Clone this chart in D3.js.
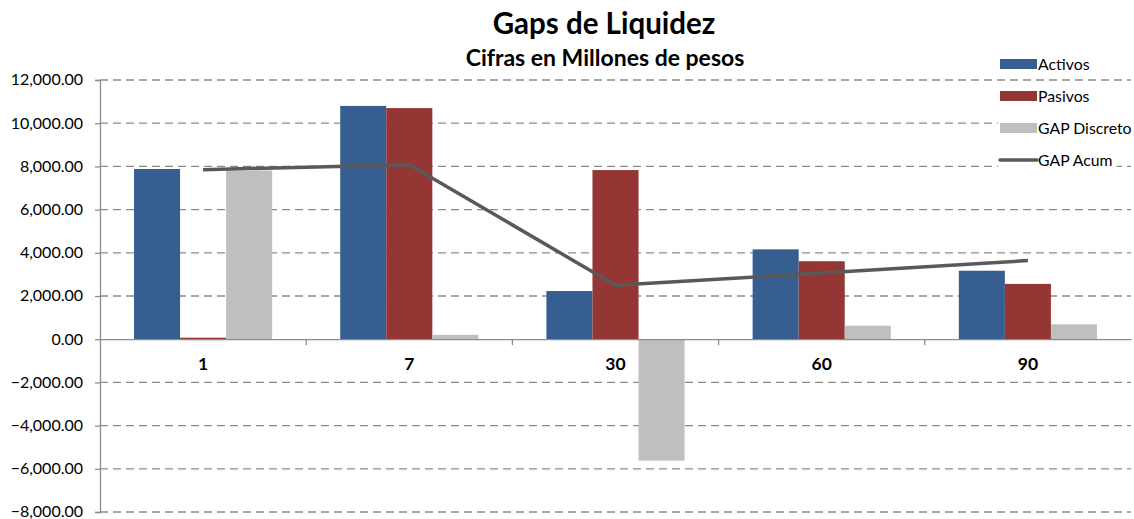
<!DOCTYPE html>
<html><head><meta charset="utf-8">
<script src="https://cdn.jsdelivr.net/npm/d3@7"></script>
<style>body{margin:0;background:#fff}svg{display:block}text{font-family:Lato,"Open Sans",sans-serif}</style>
</head><body><svg id="c" width="1134" height="519"></svg>
<script>
const categories = ["1","7","30","60","90"];
const activos = [7880, 10800, 2230, 4160, 3170];
const pasivos = [70, 10700, 7830, 3610, 2560];
const gapDiscreto = [7810, 200, -5620, 625, 690];
const gapAcum = [7850, 8080, 2500, 3060, 3640];
const yTicks = [12000,10000,8000,6000,4000,2000,0,-2000,-4000,-6000,-8000];
const seriesNames = ["Activos","Pasivos","GAP Discreto","GAP Acum"];
const colors = ["#365E91","#943634","#BFBFBF","#595959"];

const svg = d3.select("#c");
const L = 100, R = 1131, T = 80, B = 512;
const y = d3.scaleLinear().domain([-8000,12000]).range([B,T]);
const x = d3.scaleBand().domain(categories).range([L,R]).paddingInner(0.33).paddingOuter(0.165);
const xg = d3.scaleBand().domain(categories).range([L,R]);
const xs = d3.scaleBand().domain([0,1,2]).range([0,x.bandwidth()]);

// gridlines
svg.append("g").selectAll("line").data(yTicks.filter(d=>d!==0)).join("line")
  .attr("x1",L).attr("x2",R).attr("y1",d=>y(d)).attr("y2",d=>y(d))
  .attr("stroke","#8c8c8c").attr("stroke-width",1.3).attr("stroke-dasharray","8,5");

// y axis
const yAxis = d3.axisLeft(y).tickValues(yTicks).tickSize(5).tickPadding(12)
  .tickFormat(d=>d3.format(",.2f")(d));
const ga = svg.append("g").attr("transform",`translate(${L},0)`).call(yAxis);
ga.select(".domain").attr("stroke","#8c8c8c").attr("stroke-width",1.3);
ga.selectAll(".tick line").attr("stroke","#8c8c8c").attr("stroke-width",1.3);
ga.selectAll(".tick text").attr("font-size",16).attr("fill","#000").attr("font-family","Lato,sans-serif").attr("dy","0.3em");

// bars
const series = [activos,pasivos,gapDiscreto];
series.forEach((vals,si)=>{
  svg.append("g").selectAll("rect").data(vals).join("rect")
    .attr("x",(d,i)=>x(categories[i])+xs(si))
    .attr("width",xs.bandwidth())
    .attr("y",d=>y(Math.max(0,d)))
    .attr("height",d=>Math.abs(y(d)-y(0)))
    .attr("fill",colors[si]);
});

// zero axis
const xAxis = d3.axisBottom(xg).tickSize(0).tickPadding(18);
const gx = svg.append("g").attr("transform",`translate(0,${y(0)})`).call(xAxis);
gx.select(".domain").attr("stroke","#8c8c8c").attr("stroke-width",1.3);
gx.selectAll(".tick text").attr("font-size",17.5).attr("font-weight","bold").attr("fill","#000");
svg.append("g").selectAll("line").data(categories.slice(1)).join("line")
  .attr("x1",d=>xg(d)).attr("x2",d=>xg(d)).attr("y1",y(0)).attr("y2",y(0)+6)
  .attr("stroke","#8c8c8c").attr("stroke-width",1.3);

// line
const line = d3.line().x((d,i)=>xg(categories[i])+xg.bandwidth()/2).y(d=>y(d));
svg.append("path").datum(gapAcum).attr("d",line).attr("fill","none")
  .attr("stroke",colors[3]).attr("stroke-width",3.5).attr("stroke-linejoin","round");

// title
svg.append("text").attr("x",604).attr("y",34).attr("text-anchor","middle")
  .attr("font-size",29.5).attr("font-weight","bold").text("Gaps de Liquidez");
svg.append("text").attr("x",605).attr("y",66).attr("text-anchor","middle")
  .attr("font-size",23).attr("font-weight","bold").text("Cifras en Millones de pesos");

// legend
const lg = svg.append("g");
seriesNames.forEach((n,i)=>{
  const cy = 64 + i*32;
  const g = lg.append("g");
  const bg = g.append("rect").attr("x",998).attr("y",cy-10).attr("height",20).attr("fill","#fff");
  if(i<3) g.append("rect").attr("x",1000).attr("y",cy-5).attr("width",37).attr("height",10).attr("fill",colors[i]);
  else g.append("line").attr("x1",1000).attr("x2",1037).attr("y1",cy).attr("y2",cy).attr("stroke",colors[3]).attr("stroke-width",3.5).attr("stroke-linecap","round");
  const t = g.append("text").attr("x",1038).attr("y",cy+6).attr("font-size",15.8).text(n);
  const w = t.node().getComputedTextLength();
  bg.attr("width",w+44);
});
</script></body></html>
